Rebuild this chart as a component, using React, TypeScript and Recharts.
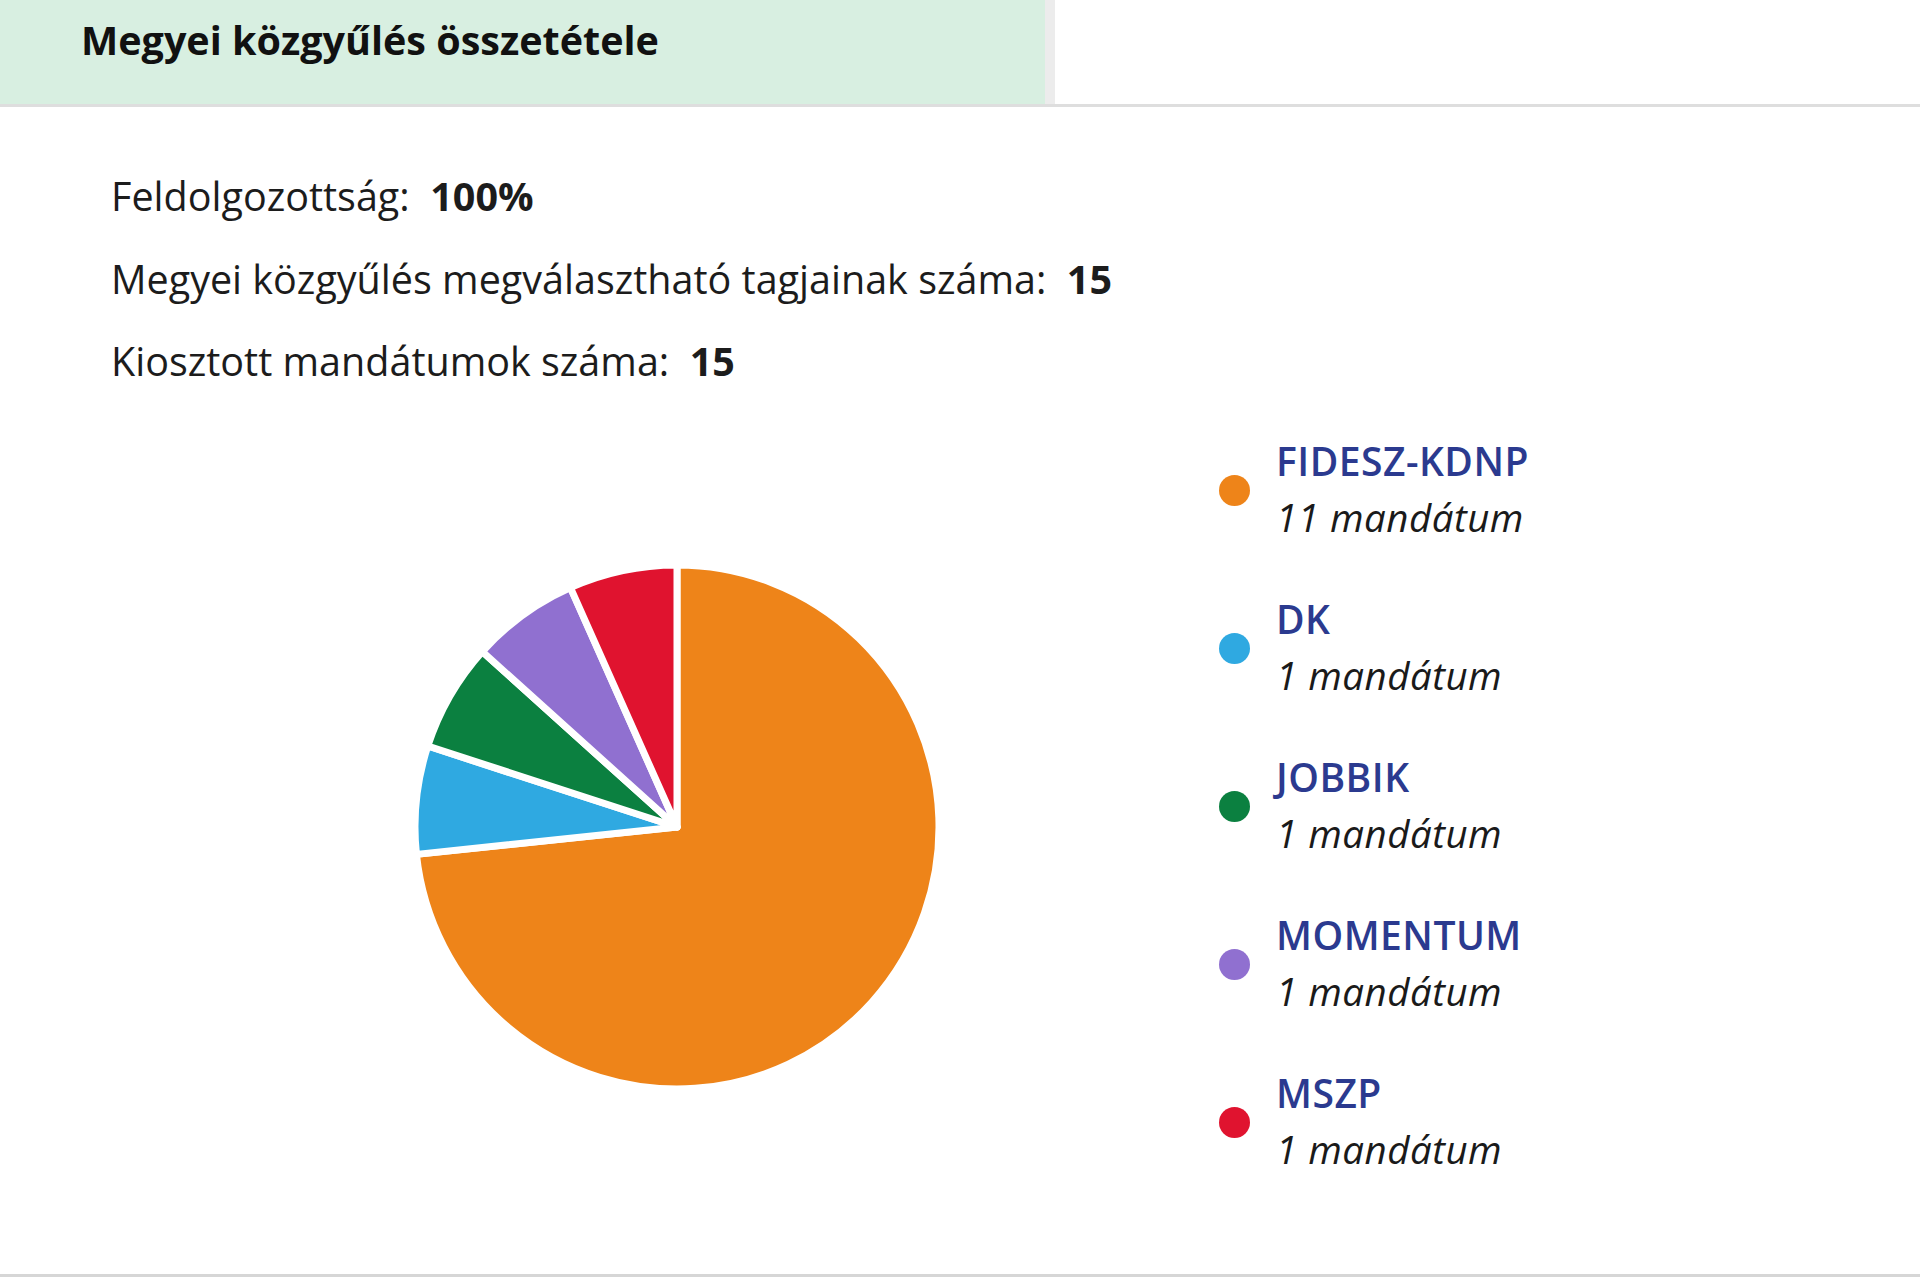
import * as React from 'react';
import { PieChart, Pie, Cell, Legend } from 'recharts';

// party names, seat counts and colours
const parties = ['FIDESZ-KDNP', 'DK', 'JOBBIK', 'MOMENTUM', 'MSZP'];
const seats = [11, 1, 1, 1, 1];
const partyColors = ['#ee8419', '#2fa9e1', '#0b8040', '#9070d0', '#e0132f'];

const summaryLabels = [
  'Feldolgozottság:',
  'Megyei közgyűlés megválasztható tagjainak száma:',
  'Kiosztott mandátumok száma:',
];
const summaryValues = ['100%', '15', '15'];

const FONT = '"Open Sans", "Noto Sans", sans-serif';

const data = parties.map((name, i) => ({ name, value: seats[i] }));

function SeatLegend({ payload }: any) {
  // keep the data order, the legend sorts by name otherwise
  const items = [...(payload || [])].sort(
    (a: any, b: any) => parties.indexOf(a.value) - parties.indexOf(b.value)
  );
  return (
    <div style={{ fontFamily: FONT }}>
      {items.map((entry: any) => (
        <div key={entry.value} style={{ position: 'relative', height: 158, paddingLeft: 57 }}>
          <span
            style={{
              position: 'absolute',
              left: 0,
              top: 43,
              width: 31,
              height: 31,
              borderRadius: '50%',
              background: entry.color,
            }}
          />
          <div style={{ fontSize: 39, fontWeight: 600, color: '#2b3a8f', lineHeight: '57px', letterSpacing: 0.5 }}>
            {entry.value}
          </div>
          <div style={{ fontSize: 38.5, fontStyle: 'italic', color: '#1a1a1a', lineHeight: '57px', letterSpacing: 0.5 }}>
            {seats[parties.indexOf(entry.value)]} mandátum
          </div>
        </div>
      ))}
    </div>
  );
}

export default function App() {
  return (
    <div
      style={{
        position: 'fixed',
        left: 0,
        top: 0,
        width: 1920,
        height: 1279,
        background: '#fff',
        fontFamily: FONT,
        overflow: 'hidden',
      }}
    >
      {/* tab header */}
      <div style={{ position: 'absolute', left: 0, top: 0, width: 1045, height: 105, background: '#d8efe1' }} />
      <div style={{ position: 'absolute', left: 1045, top: 0, width: 10, height: 105, background: '#ececec' }} />
      <div style={{ position: 'absolute', left: 0, top: 104, width: 1920, height: 3, background: '#dedede' }} />
      <div
        style={{
          position: 'absolute',
          left: 81,
          top: 14,
          fontSize: 39.5,
          fontWeight: 700,
          color: '#111',
          lineHeight: '52px',
        }}
      >
        Megyei közgyűlés összetétele
      </div>

      {/* summary lines */}
      {summaryLabels.map((label, i) => (
        <div
          key={label}
          style={{
            position: 'absolute',
            left: 111,
            top: 170 + i * 82.5,
            fontSize: 39.5,
            color: '#1c1c1c',
            lineHeight: '52px',
            whiteSpace: 'pre',
          }}
        >
          {label}
          {'  '}
          <b>{summaryValues[i]}</b>
        </div>
      ))}

      <div style={{ position: 'absolute', left: 0, top: 420 }}>
        <PieChart width={1920} height={840}>
          <Pie
            data={data}
            dataKey="value"
            nameKey="name"
            cx={672}
            cy={402}
            outerRadius={262}
            startAngle={90}
            endAngle={-270}
            stroke="#ffffff"
            strokeWidth={7}
            strokeLinejoin="round"
            isAnimationActive={false}
          >
            {data.map((d, i) => (
              <Cell key={d.name} fill={partyColors[i]} />
            ))}
          </Pie>
          <Legend
            layout="vertical"
            content={<SeatLegend />}
            wrapperStyle={{ left: 1219, top: 12, width: 500, bottom: 'auto', right: 'auto' }}
          />
        </PieChart>
      </div>

      <div style={{ position: 'absolute', left: 0, top: 1274, width: 1920, height: 3, background: '#d6d6d6' }} />
    </div>
  );
}
